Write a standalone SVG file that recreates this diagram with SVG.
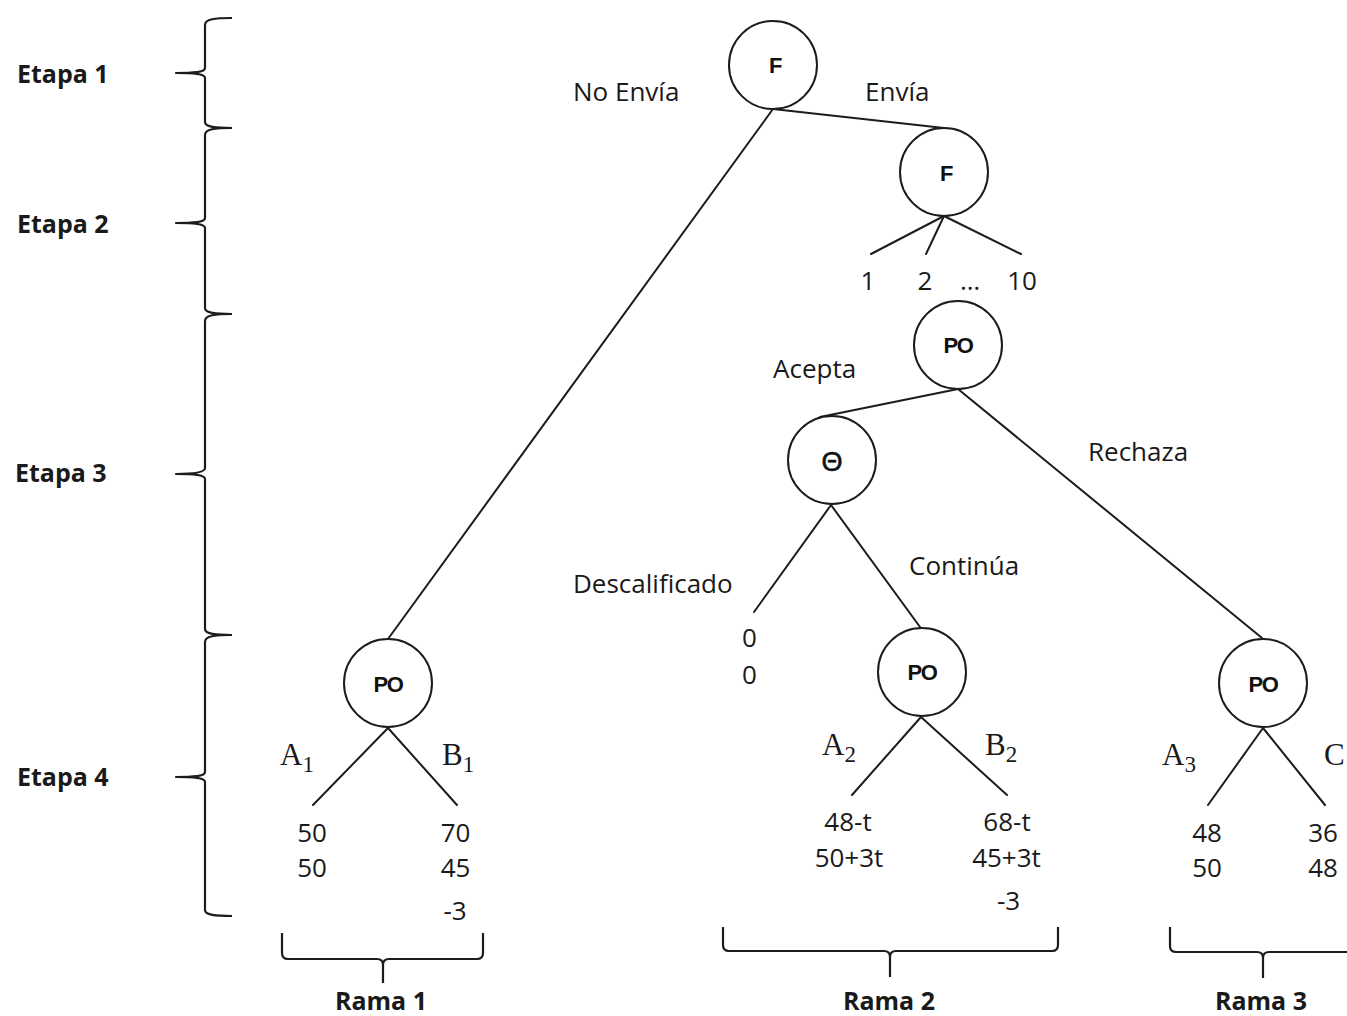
<svg xmlns="http://www.w3.org/2000/svg" width="1347" height="1016" viewBox="0 0 1347 1016">
<style>
.ln{stroke:#1c1c1c;stroke-width:2;fill:none;stroke-linecap:round}
.br{stroke:#1c1c1c;stroke-width:2.2;fill:none;stroke-linejoin:round}
.nd{stroke:#1c1c1c;stroke-width:2;fill:#fff}
.nl{font-family:"Liberation Sans",Arial,sans-serif;font-weight:bold;font-size:22px;fill:#111;text-anchor:middle;letter-spacing:-1.5px}
.th{font-family:"Liberation Sans",Arial,sans-serif;font-size:27px;fill:#111;stroke:#111;stroke-width:0.6;text-anchor:middle}
.t{font-family:"Open Sans","Liberation Sans",sans-serif;font-size:26px;fill:#1a1a1a}
.c{text-anchor:middle}
.b{font-family:"Open Sans","Liberation Sans",sans-serif;font-weight:bold;font-size:25px;fill:#1a1a1a}
.m{font-family:"Liberation Serif","Times New Roman",serif;font-size:31px;fill:#1a1a1a}
</style>
<rect width="1347" height="1016" fill="#fff"/>

<g id="stage-brackets">
<path class="br" d="M232,18 C215,18 205,19 205,25 L205,68 C205,72 196,73 176,73 C196,73 205,74 205,78 L205,122 C205,127 215,128 232,128"/>
<path class="br" d="M232,128 C215,128 205,129 205,135 L205,218 C205,222 196,223 176,223 C196,223 205,224 205,228 L205,308 C205,313 215,314 232,314"/>
<path class="br" d="M232,314 C215,314 205,315 205,321 L205,468 C205,472 196,474 176,474 C196,474 205,475 205,479 L205,629 C205,634 215,635 232,635"/>
<path class="br" d="M232,635 C215,635 205,636 205,642 L205,772 C205,776 196,777 176,777 C196,777 205,778 205,782 L205,910 C205,915 215,916 232,916"/>
<text class="b" x="17" y="83">Etapa 1</text>
<text class="b" x="17" y="233">Etapa 2</text>
<text class="b" x="15" y="482">Etapa 3</text>
<text class="b" x="17" y="786">Etapa 4</text>
</g>

<g id="connectors">
<line class="ln" x1="773" y1="109" x2="944" y2="128"/>
<line class="ln" x1="773" y1="109" x2="388" y2="639"/>
<line class="ln" x1="944" y1="216" x2="871" y2="254"/>
<line class="ln" x1="944" y1="216" x2="926" y2="254"/>
<line class="ln" x1="944" y1="216" x2="1021" y2="254"/>
<line class="ln" x1="958" y1="389" x2="820" y2="417"/>
<line class="ln" x1="958" y1="389" x2="1262" y2="638"/>
<line class="ln" x1="831" y1="505" x2="754" y2="612"/>
<line class="ln" x1="831" y1="505" x2="920" y2="627"/>
<line class="ln" x1="388" y1="728" x2="313" y2="805"/>
<line class="ln" x1="388" y1="728" x2="457" y2="805"/>
<line class="ln" x1="921" y1="717" x2="852" y2="795"/>
<line class="ln" x1="921" y1="717" x2="1007" y2="795"/>
<line class="ln" x1="1263" y1="728" x2="1208" y2="805"/>
<line class="ln" x1="1263" y1="728" x2="1325" y2="805"/>
</g>

<g id="node-F1"><circle class="nd" cx="773" cy="65" r="44"/><text class="nl" x="775" y="73">F</text></g>
<g id="node-F2"><circle class="nd" cx="944" cy="172" r="44"/><text class="nl" x="946" y="181">F</text></g>
<g id="node-PO-top"><circle class="nd" cx="958" cy="345" r="44"/><text class="nl" x="958" y="353">PO</text></g>
<g id="node-theta"><circle class="nd" cx="832" cy="460" r="44"/><text class="th" x="832" y="471">Θ</text></g>
<g id="node-PO1"><circle class="nd" cx="388" cy="683" r="44"/><text class="nl" x="388" y="692">PO</text></g>
<g id="node-PO2"><circle class="nd" cx="922" cy="672" r="44"/><text class="nl" x="922" y="680">PO</text></g>
<g id="node-PO3"><circle class="nd" cx="1263" cy="683" r="44"/><text class="nl" x="1263" y="692">PO</text></g>

<g id="edge-labels">
<text class="t" x="573" y="101">No Envía</text>
<text class="t" x="865" y="101">Envía</text>
<text class="t c" x="868" y="290">1</text>
<text class="t c" x="925" y="290">2</text>
<text class="t c" x="970" y="290">…</text>
<text class="t c" x="1022" y="290">10</text>
<text class="t" x="773" y="378">Acepta</text>
<text class="t" x="1088" y="461">Rechaza</text>
<text class="t" x="909" y="575">Continúa</text>
<text class="t" x="573" y="593">Descalificado</text>
<text class="m" x="280" y="765">A<tspan font-size="23" dy="7">1</tspan></text>
<text class="m" x="442" y="765">B<tspan font-size="23" dy="7">1</tspan></text>
<text class="m" x="822" y="755">A<tspan font-size="23" dy="7">2</tspan></text>
<text class="m" x="985" y="755">B<tspan font-size="23" dy="7">2</tspan></text>
<text class="m" x="1162" y="765">A<tspan font-size="23" dy="7">3</tspan></text>
<text class="m" x="1324" y="765">C</text>
</g>

<g id="payoffs">
<text class="t c" x="749.5" y="647">0</text>
<text class="t c" x="749.5" y="684">0</text>
<text class="t c" x="312" y="842">50</text>
<text class="t c" x="312" y="877">50</text>
<text class="t c" x="455.5" y="842">70</text>
<text class="t c" x="455.5" y="877">45</text>
<text class="t c" x="455" y="920">-3</text>
<text class="t c" x="848" y="831">48-t</text>
<text class="t c" x="849" y="867">50+3t</text>
<text class="t c" x="1007" y="831">68-t</text>
<text class="t c" x="1006.5" y="867">45+3t</text>
<text class="t c" x="1008.5" y="910">-3</text>
<text class="t c" x="1207" y="842">48</text>
<text class="t c" x="1207" y="877">50</text>
<text class="t c" x="1323" y="842">36</text>
<text class="t c" x="1323" y="877">48</text>
</g>

<g id="branch-braces">
<path class="br" d="M282,933 L282,953 Q282,959 288,959 L377,959 Q383,959 383,965 L383,983 M483,933 L483,953 Q483,959 477,959 L389,959 Q383,959 383,965"/>
<path class="br" d="M723,927 L723,945 Q723,951 729,951 L884,951 Q890,951 890,957 L890,977 M1058,927 L1058,945 Q1058,951 1052,951 L896,951 Q890,951 890,957"/>
<path class="br" d="M1170,927 L1170,946 Q1170,952 1176,952 L1257,952 Q1263,952 1263,958 L1263,978 M1350,952 L1269,952 Q1263,952 1263,958"/>
<text class="b c" x="381" y="1010">Rama 1</text>
<text class="b c" x="889" y="1010">Rama 2</text>
<text class="b c" x="1261" y="1010">Rama 3</text>
</g>
</svg>
